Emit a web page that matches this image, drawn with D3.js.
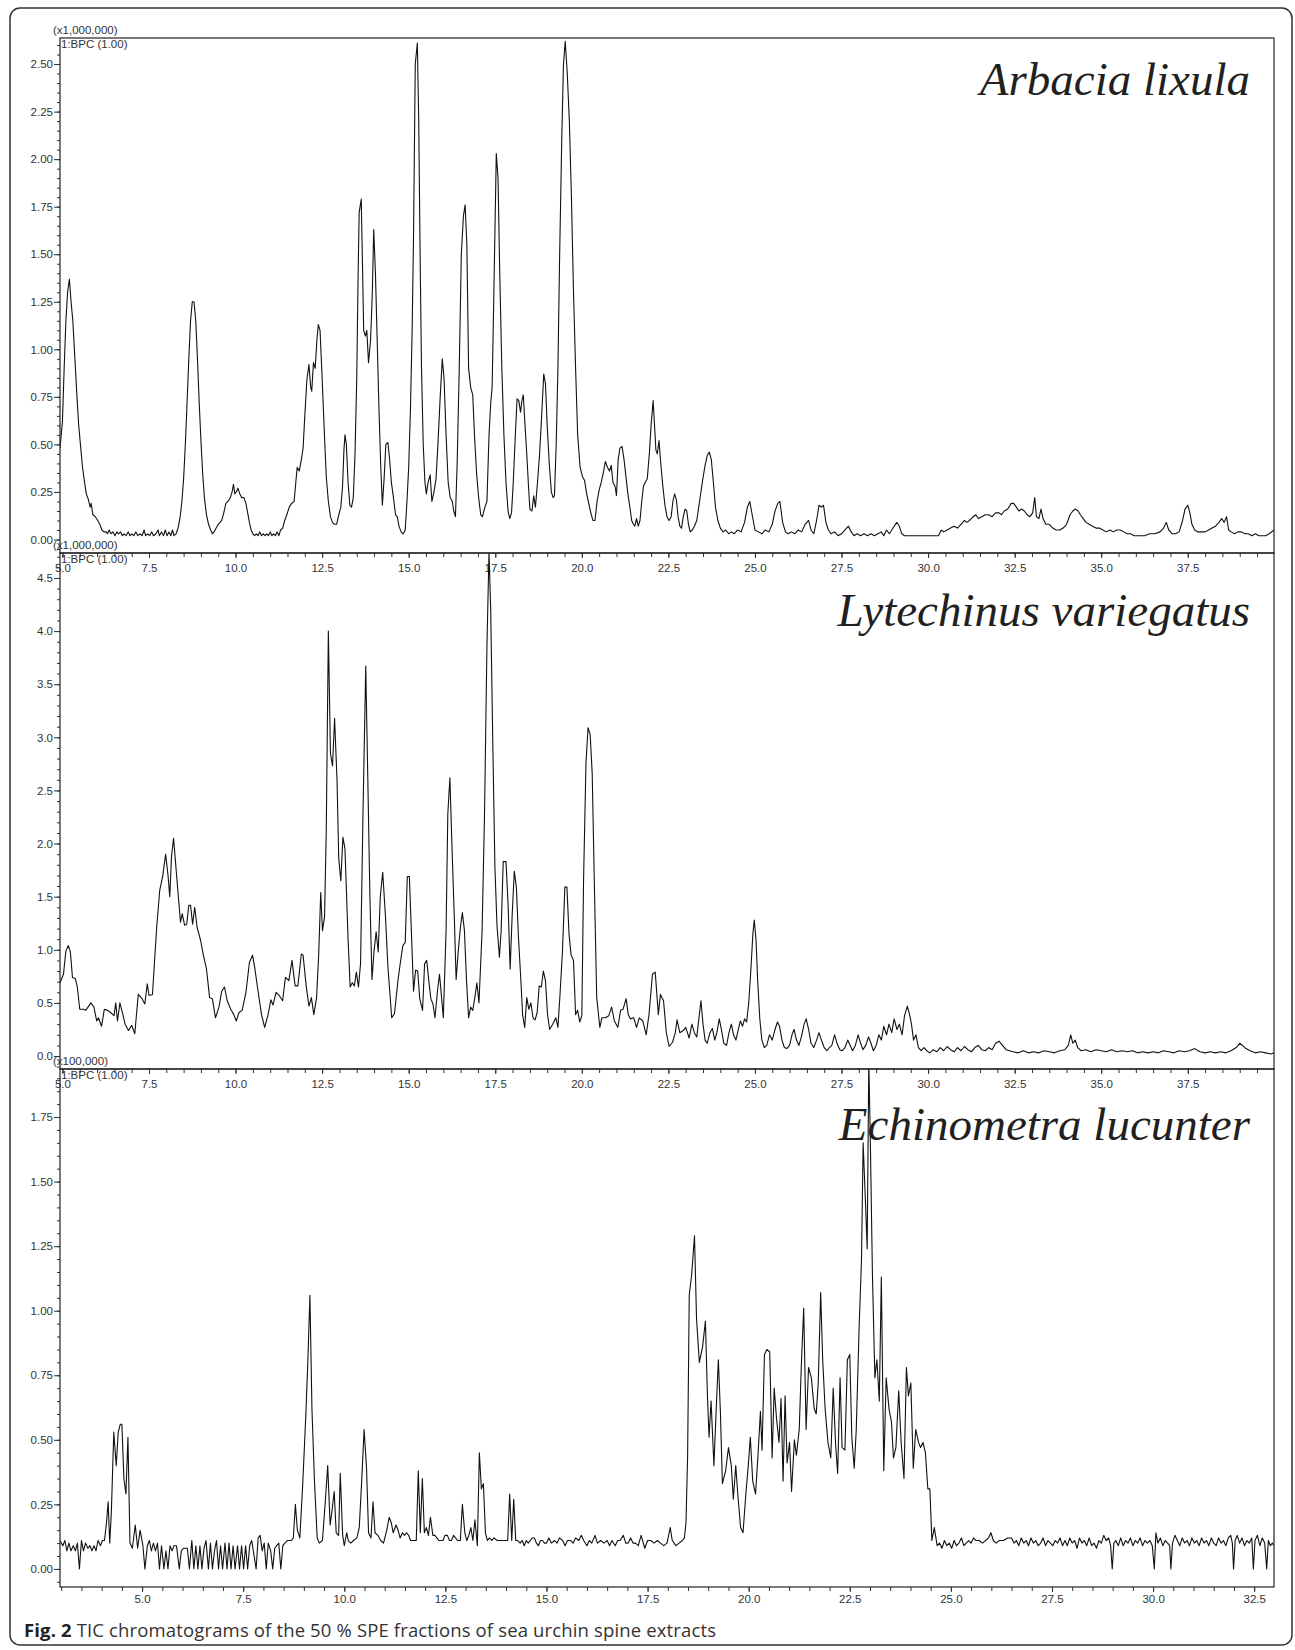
<!DOCTYPE html>
<html>
<head>
<meta charset="utf-8">
<script src="https://cdn.jsdelivr.net/npm/d3@7"></script>
<style>
  body { margin: 0; background: #fff; }
  .tick text { font-family: "Liberation Sans", Arial, sans-serif; font-size: 11.5px; fill: #333; }
  .tick line { stroke: #333; }
</style>
</head>
<body>
<div id="chart"></div>
<script>
// retention time (min) / intensity pairs
var arbaciaData = [
  [4.93,0.48],[5.0,0.62],[5.05,0.9],[5.1,1.15],[5.15,1.3],[5.2,1.37],[5.25,1.25],[5.3,1.15],[5.36,0.95],[5.42,0.75],
  [5.47,0.6],[5.52,0.5],[5.58,0.38],[5.64,0.3],[5.69,0.24],[5.75,0.21],[5.8,0.17],[5.83,0.19],[5.88,0.13],[5.95,0.12],
  [6.02,0.1],[6.08,0.08],[6.14,0.05],[6.2,0.04],[6.26,0.04],[6.3,0.03],[6.35,0.05],[6.4,0.03],[6.46,0.04],[6.52,0.02],
  [6.57,0.04],[6.62,0.03],[6.68,0.04],[6.73,0.02],[6.78,0.03],[6.84,0.02],[6.9,0.04],[6.95,0.02],[7.0,0.03],[7.06,0.02],
  [7.12,0.04],[7.18,0.02],[7.24,0.03],[7.3,0.02],[7.36,0.05],[7.4,0.02],[7.46,0.03],[7.52,0.02],[7.58,0.04],[7.63,0.02],
  [7.7,0.03],[7.76,0.05],[7.8,0.02],[7.86,0.04],[7.92,0.02],[7.97,0.05],[8.02,0.02],[8.08,0.04],[8.13,0.02],[8.18,0.05],
  [8.22,0.02],[8.28,0.03],[8.34,0.06],[8.4,0.12],[8.45,0.2],[8.5,0.32],[8.55,0.5],[8.6,0.72],[8.65,0.95],[8.7,1.15],
  [8.75,1.25],[8.8,1.25],[8.85,1.15],[8.9,0.95],[8.95,0.72],[9.0,0.52],[9.05,0.35],[9.1,0.22],[9.16,0.13],[9.22,0.08],
  [9.28,0.05],[9.33,0.03],[9.38,0.04],[9.44,0.06],[9.5,0.08],[9.55,0.09],[9.6,0.1],[9.66,0.14],[9.72,0.19],[9.78,0.2],
  [9.85,0.22],[9.9,0.25],[9.94,0.29],[9.98,0.24],[10.02,0.25],[10.07,0.27],[10.12,0.24],[10.18,0.22],[10.24,0.22],[10.3,0.19],
  [10.35,0.14],[10.4,0.09],[10.45,0.05],[10.5,0.03],[10.55,0.02],[10.6,0.03],[10.65,0.02],[10.7,0.04],[10.75,0.02],[10.8,0.03],
  [10.85,0.02],[10.9,0.03],[10.95,0.02],[11.0,0.04],[11.05,0.02],[11.1,0.03],[11.15,0.02],[11.2,0.04],[11.25,0.02],[11.3,0.05],
  [11.36,0.06],[11.42,0.1],[11.48,0.13],[11.55,0.17],[11.62,0.19],[11.69,0.2],[11.74,0.3],[11.78,0.38],[11.84,0.36],[11.9,0.42],
  [11.95,0.48],[12.0,0.65],[12.06,0.84],[12.12,0.92],[12.17,0.8],[12.2,0.78],[12.25,0.93],[12.3,0.9],[12.35,1.05],[12.39,1.13],
  [12.44,1.1],[12.5,0.85],[12.56,0.58],[12.62,0.33],[12.68,0.2],[12.74,0.12],[12.8,0.09],[12.86,0.08],[12.92,0.08],[12.98,0.13],
  [13.04,0.17],[13.09,0.28],[13.13,0.47],[13.16,0.55],[13.2,0.5],[13.25,0.3],[13.3,0.18],[13.35,0.17],[13.4,0.22],[13.45,0.45],
  [13.5,0.85],[13.54,1.4],[13.57,1.72],[13.63,1.79],[13.67,1.4],[13.7,1.1],[13.75,1.07],[13.79,1.1],[13.84,0.93],[13.9,1.05],
  [13.95,1.3],[13.99,1.63],[14.04,1.4],[14.09,1.05],[14.14,0.7],[14.19,0.4],[14.24,0.18],[14.29,0.32],[14.34,0.5],[14.4,0.51],
  [14.45,0.42],[14.5,0.3],[14.56,0.22],[14.62,0.13],[14.67,0.12],[14.72,0.07],[14.78,0.04],[14.84,0.03],[14.9,0.05],[14.95,0.2],
  [15.0,0.38],[15.05,0.68],[15.1,1.1],[15.14,1.6],[15.19,2.5],[15.25,2.61],[15.29,2.2],[15.33,1.5],[15.37,0.9],[15.42,0.5],
  [15.47,0.3],[15.51,0.24],[15.56,0.3],[15.62,0.34],[15.67,0.2],[15.73,0.25],[15.79,0.32],[15.85,0.52],[15.91,0.75],[15.97,0.95],
  [16.02,0.85],[16.08,0.55],[16.14,0.3],[16.2,0.22],[16.26,0.2],[16.3,0.15],[16.35,0.12],[16.4,0.4],[16.46,0.9],[16.52,1.5],
  [16.58,1.7],[16.63,1.76],[16.68,1.55],[16.73,0.9],[16.79,0.8],[16.85,0.76],[16.9,0.55],[16.96,0.35],[17.02,0.22],[17.08,0.13],
  [17.13,0.12],[17.2,0.17],[17.26,0.2],[17.32,0.55],[17.37,0.72],[17.41,0.8],[17.47,1.4],[17.53,2.03],[17.58,1.9],[17.63,1.4],
  [17.69,0.9],[17.75,0.55],[17.81,0.3],[17.87,0.15],[17.92,0.11],[17.97,0.14],[18.02,0.3],[18.08,0.55],[18.13,0.74],[18.18,0.73],
  [18.23,0.67],[18.27,0.73],[18.31,0.76],[18.36,0.6],[18.41,0.45],[18.46,0.28],[18.5,0.16],[18.56,0.15],[18.61,0.23],[18.66,0.17],
  [18.72,0.3],[18.78,0.45],[18.84,0.65],[18.9,0.87],[18.95,0.82],[19.0,0.6],[19.06,0.4],[19.12,0.25],[19.17,0.22],[19.21,0.23],
  [19.26,0.5],[19.31,0.9],[19.36,1.5],[19.42,2.1],[19.47,2.5],[19.52,2.62],[19.58,2.45],[19.64,2.2],[19.7,1.8],[19.76,1.3],
  [19.82,0.9],[19.88,0.55],[19.95,0.38],[20.02,0.33],[20.08,0.31],[20.14,0.24],[20.2,0.19],[20.26,0.14],[20.32,0.1],[20.38,0.1],
  [20.44,0.2],[20.5,0.26],[20.56,0.3],[20.62,0.35],[20.68,0.41],[20.74,0.38],[20.8,0.36],[20.85,0.39],[20.9,0.3],[20.96,0.28],
  [21.0,0.23],[21.05,0.42],[21.1,0.48],[21.16,0.49],[21.22,0.42],[21.28,0.32],[21.33,0.24],[21.38,0.18],[21.44,0.1],[21.49,0.08],
  [21.53,0.07],[21.58,0.11],[21.63,0.07],[21.68,0.1],[21.73,0.2],[21.78,0.28],[21.83,0.3],[21.89,0.32],[21.95,0.45],[22.0,0.6],
  [22.06,0.73],[22.1,0.6],[22.14,0.47],[22.18,0.45],[22.23,0.52],[22.28,0.4],[22.34,0.28],[22.4,0.18],[22.46,0.12],[22.52,0.1],
  [22.58,0.12],[22.63,0.2],[22.68,0.24],[22.73,0.21],[22.78,0.12],[22.83,0.07],[22.88,0.06],[22.93,0.12],[22.98,0.16],[23.03,0.15],
  [23.08,0.08],[23.13,0.04],[23.19,0.05],[23.25,0.07],[23.32,0.1],[23.4,0.2],[23.48,0.3],[23.55,0.38],[23.62,0.44],[23.68,0.46],
  [23.74,0.42],[23.8,0.3],[23.86,0.17],[23.93,0.1],[24.0,0.06],[24.08,0.04],[24.16,0.05],[24.24,0.03],[24.32,0.04],[24.4,0.03],
  [24.5,0.05],[24.6,0.04],[24.7,0.09],[24.78,0.17],[24.85,0.2],[24.92,0.13],[25.0,0.05],[25.1,0.04],[25.2,0.03],[25.3,0.05],
  [25.4,0.04],[25.5,0.08],[25.58,0.15],[25.66,0.19],[25.72,0.2],[25.8,0.09],[25.88,0.04],[25.96,0.03],[26.05,0.04],[26.15,0.03],
  [26.25,0.05],[26.35,0.04],[26.45,0.08],[26.55,0.1],[26.62,0.05],[26.7,0.03],[26.78,0.1],[26.85,0.18],[26.92,0.17],[26.98,0.18],
  [27.05,0.09],[27.12,0.05],[27.2,0.03],[27.3,0.04],[27.4,0.02],[27.5,0.03],[27.6,0.05],[27.7,0.07],[27.78,0.04],[27.86,0.02],
  [27.95,0.03],[28.05,0.02],[28.15,0.03],[28.25,0.02],[28.35,0.03],[28.45,0.02],[28.55,0.03],[28.65,0.04],[28.72,0.02],[28.8,0.05],
  [28.88,0.03],[28.95,0.05],[29.02,0.07],[29.1,0.09],[29.17,0.07],[29.24,0.03],[29.32,0.02],[29.5,0.02],[29.7,0.02],[29.9,0.02],
  [30.1,0.02],[30.3,0.02],[30.38,0.05],[30.45,0.04],[30.55,0.05],[30.65,0.06],[30.75,0.07],[30.85,0.06],[30.95,0.08],[31.05,0.1],
  [31.12,0.09],[31.2,0.1],[31.3,0.12],[31.38,0.13],[31.45,0.11],[31.55,0.12],[31.65,0.13],[31.75,0.13],[31.85,0.12],[31.95,0.14],
  [32.05,0.14],[32.12,0.13],[32.2,0.15],[32.3,0.16],[32.4,0.19],[32.47,0.19],[32.55,0.17],[32.62,0.15],[32.7,0.16],[32.78,0.15],
  [32.86,0.13],[32.94,0.12],[33.02,0.14],[33.08,0.22],[33.13,0.12],[33.2,0.11],[33.26,0.16],[33.32,0.11],[33.4,0.08],[33.5,0.08],
  [33.6,0.06],[33.7,0.05],[33.8,0.05],[33.9,0.06],[34.0,0.08],[34.1,0.13],[34.18,0.15],[34.26,0.16],[34.33,0.15],[34.4,0.13],
  [34.48,0.11],[34.56,0.09],[34.65,0.08],[34.75,0.07],[34.85,0.06],[34.95,0.06],[35.05,0.05],[35.15,0.04],[35.25,0.05],[35.35,0.04],
  [35.45,0.05],[35.55,0.05],[35.65,0.04],[35.75,0.03],[35.85,0.03],[35.95,0.02],[36.1,0.02],[36.25,0.02],[36.4,0.03],[36.55,0.03],
  [36.7,0.04],[36.8,0.06],[36.88,0.09],[36.95,0.05],[37.05,0.03],[37.15,0.03],[37.25,0.04],[37.35,0.1],[37.42,0.16],[37.5,0.18],
  [37.56,0.14],[37.62,0.08],[37.7,0.05],[37.78,0.04],[37.88,0.04],[38.0,0.04],[38.1,0.05],[38.2,0.06],[38.3,0.07],[38.4,0.09],
  [38.48,0.11],[38.55,0.09],[38.62,0.12],[38.68,0.05],[38.75,0.04],[38.85,0.03],[38.95,0.04],[39.05,0.04],[39.15,0.03],[39.25,0.03],
  [39.35,0.02],[39.45,0.03],[39.55,0.02],[39.65,0.02],[39.75,0.02],[39.85,0.03],[39.99,0.05]
];

var lytechinusData = [
  [4.93,0.69],[5.03,0.77],[5.1,0.99],[5.17,1.04],[5.23,0.98],[5.29,0.74],[5.37,0.73],[5.43,0.65],[5.5,0.44],[5.61,0.44],
  [5.67,0.43],[5.76,0.47],[5.82,0.5],[5.91,0.46],[5.99,0.33],[6.04,0.36],[6.13,0.28],[6.21,0.44],[6.31,0.43],[6.39,0.41],
  [6.49,0.38],[6.54,0.5],[6.59,0.33],[6.66,0.5],[6.73,0.41],[6.81,0.3],[6.91,0.24],[7.0,0.29],[7.09,0.21],[7.19,0.58],
  [7.3,0.54],[7.38,0.49],[7.45,0.68],[7.5,0.57],[7.6,0.58],[7.72,1.2],[7.81,1.56],[7.9,1.7],[7.98,1.9],[8.05,1.7],
  [8.1,1.5],[8.15,1.88],[8.21,2.05],[8.27,1.81],[8.34,1.53],[8.41,1.26],[8.46,1.34],[8.53,1.23],[8.59,1.24],[8.65,1.42],
  [8.7,1.42],[8.76,1.24],[8.82,1.4],[8.89,1.21],[8.99,1.09],[9.07,0.95],[9.16,0.82],[9.25,0.55],[9.33,0.54],[9.42,0.36],
  [9.52,0.46],[9.6,0.61],[9.68,0.65],[9.76,0.52],[9.86,0.44],[9.95,0.39],[10.02,0.33],[10.1,0.41],[10.19,0.43],[10.3,0.6],
  [10.4,0.88],[10.49,0.95],[10.55,0.84],[10.65,0.61],[10.75,0.39],[10.84,0.27],[10.94,0.39],[11.02,0.53],[11.08,0.48],[11.17,0.6],
  [11.26,0.57],[11.36,0.52],[11.44,0.74],[11.54,0.71],[11.63,0.9],[11.72,0.66],[11.8,0.66],[11.9,0.96],[11.95,0.95],[12.04,0.66],
  [12.12,0.47],[12.19,0.55],[12.26,0.39],[12.34,0.55],[12.4,0.95],[12.46,1.54],[12.51,1.18],[12.57,1.31],[12.62,2.13],[12.68,4.0],
  [12.74,2.85],[12.8,2.73],[12.86,3.18],[12.93,2.6],[12.98,1.86],[13.04,1.65],[13.1,2.06],[13.16,1.95],[13.25,1.1],[13.31,0.65],
  [13.37,0.69],[13.43,0.66],[13.49,0.79],[13.55,0.65],[13.61,0.87],[13.68,2.28],[13.76,3.67],[13.82,2.6],[13.88,1.5],[13.94,0.72],
  [14.0,0.99],[14.06,1.17],[14.12,0.98],[14.18,1.5],[14.25,1.73],[14.33,1.31],[14.4,0.84],[14.51,0.36],[14.59,0.4],[14.69,0.71],
  [14.76,0.88],[14.83,1.04],[14.9,1.07],[14.96,1.69],[15.02,1.69],[15.08,1.15],[15.14,0.61],[15.2,0.81],[15.26,0.8],[15.32,0.54],
  [15.4,0.43],[15.46,0.87],[15.52,0.9],[15.58,0.71],[15.64,0.54],[15.7,0.49],[15.76,0.36],[15.83,0.61],[15.89,0.77],[15.95,0.55],
  [16.0,0.36],[16.08,1.18],[16.13,2.28],[16.19,2.62],[16.25,1.97],[16.32,1.28],[16.37,0.72],[16.43,0.98],[16.49,1.2],[16.55,1.35],
  [16.61,1.18],[16.67,0.71],[16.73,0.36],[16.79,0.46],[16.85,0.43],[16.91,0.55],[16.97,0.69],[17.03,0.5],[17.12,1.18],[17.19,2.28],
  [17.26,3.86],[17.32,4.75],[17.37,4.18],[17.43,2.92],[17.49,1.78],[17.55,1.23],[17.62,0.93],[17.67,1.18],[17.73,1.83],[17.81,1.83],
  [17.87,1.43],[17.93,0.82],[17.99,1.34],[18.05,1.74],[18.11,1.59],[18.17,1.12],[18.25,0.65],[18.29,0.39],[18.35,0.27],[18.41,0.55],
  [18.47,0.44],[18.53,0.5],[18.59,0.36],[18.65,0.34],[18.71,0.41],[18.77,0.66],[18.83,0.65],[18.89,0.8],[18.95,0.71],[19.01,0.39],
  [19.07,0.25],[19.16,0.3],[19.25,0.36],[19.31,0.27],[19.37,0.58],[19.44,0.98],[19.51,1.59],[19.57,1.59],[19.63,1.15],[19.69,0.95],
  [19.76,0.9],[19.82,0.39],[19.88,0.43],[19.94,0.32],[20.0,0.38],[20.05,1.65],[20.12,2.76],[20.18,3.09],[20.24,3.03],[20.3,2.66],
  [20.36,1.65],[20.43,0.55],[20.52,0.27],[20.58,0.36],[20.68,0.36],[20.78,0.38],[20.86,0.46],[20.94,0.33],[21.04,0.27],[21.12,0.43],
  [21.19,0.44],[21.28,0.54],[21.34,0.39],[21.4,0.35],[21.5,0.36],[21.58,0.27],[21.66,0.36],[21.76,0.33],[21.86,0.2],[21.94,0.39],
  [22.04,0.77],[22.12,0.79],[22.21,0.39],[22.27,0.58],[22.36,0.52],[22.44,0.22],[22.52,0.09],[22.62,0.13],[22.7,0.22],[22.75,0.34],
  [22.83,0.22],[22.93,0.24],[23.0,0.27],[23.1,0.17],[23.18,0.3],[23.25,0.22],[23.32,0.18],[23.38,0.35],[23.44,0.52],[23.5,0.3],
  [23.56,0.15],[23.62,0.12],[23.7,0.22],[23.77,0.26],[23.84,0.15],[23.9,0.22],[23.97,0.35],[24.03,0.25],[24.1,0.12],[24.18,0.1],
  [24.25,0.22],[24.32,0.3],[24.38,0.2],[24.45,0.15],[24.52,0.25],[24.58,0.33],[24.64,0.28],[24.7,0.35],[24.76,0.32],[24.82,0.5],
  [24.88,0.8],[24.94,1.15],[24.98,1.28],[25.03,1.1],[25.08,0.7],[25.14,0.35],[25.2,0.15],[25.27,0.08],[25.34,0.1],[25.42,0.2],
  [25.5,0.15],[25.58,0.25],[25.65,0.32],[25.71,0.28],[25.78,0.15],[25.85,0.08],[25.92,0.07],[26.0,0.1],[26.07,0.2],[26.13,0.25],
  [26.2,0.15],[26.27,0.1],[26.34,0.18],[26.42,0.3],[26.48,0.35],[26.55,0.25],[26.62,0.12],[26.7,0.08],[26.78,0.15],[26.85,0.22],
  [26.92,0.15],[27.0,0.08],[27.08,0.05],[27.15,0.08],[27.22,0.1],[27.3,0.2],[27.37,0.12],[27.45,0.06],[27.52,0.05],[27.6,0.08],
  [27.68,0.15],[27.75,0.1],[27.82,0.05],[27.9,0.1],[27.98,0.2],[28.05,0.12],[28.12,0.06],[28.2,0.1],[28.28,0.18],[28.35,0.12],
  [28.42,0.05],[28.5,0.1],[28.58,0.2],[28.65,0.15],[28.72,0.28],[28.8,0.2],[28.87,0.3],[28.95,0.22],[29.02,0.35],[29.1,0.25],
  [29.17,0.3],[29.25,0.2],[29.32,0.38],[29.4,0.47],[29.46,0.4],[29.52,0.3],[29.58,0.15],[29.65,0.2],[29.72,0.08],[29.8,0.05],
  [29.88,0.08],[29.96,0.05],[30.05,0.03],[30.15,0.06],[30.25,0.04],[30.35,0.08],[30.45,0.05],[30.55,0.09],[30.65,0.06],[30.75,0.04],
  [30.85,0.08],[30.95,0.05],[31.05,0.09],[31.15,0.06],[31.25,0.04],[31.35,0.08],[31.45,0.1],[31.55,0.06],[31.65,0.05],[31.75,0.08],
  [31.85,0.06],[31.95,0.12],[32.05,0.14],[32.15,0.1],[32.25,0.06],[32.35,0.05],[32.45,0.04],[32.6,0.03],[32.75,0.05],[32.9,0.03],
  [33.05,0.04],[33.2,0.03],[33.35,0.05],[33.5,0.04],[33.65,0.03],[33.8,0.05],[33.95,0.06],[34.05,0.1],[34.12,0.2],[34.18,0.12],
  [34.25,0.15],[34.32,0.08],[34.42,0.05],[34.55,0.06],[34.7,0.04],[34.85,0.06],[35.0,0.05],[35.15,0.04],[35.3,0.06],[35.45,0.04],
  [35.6,0.05],[35.75,0.04],[35.9,0.05],[36.05,0.03],[36.2,0.04],[36.35,0.03],[36.5,0.04],[36.65,0.03],[36.8,0.05],[36.95,0.04],
  [37.1,0.03],[37.25,0.05],[37.4,0.04],[37.55,0.05],[37.7,0.07],[37.85,0.04],[38.0,0.03],[38.15,0.04],[38.3,0.03],[38.45,0.04],
  [38.6,0.03],[38.75,0.05],[38.9,0.08],[39.0,0.12],[39.08,0.1],[39.18,0.07],[39.3,0.05],[39.45,0.03],[39.6,0.04],[39.75,0.03],
  [39.9,0.02],[39.99,0.03]
];

var echinometraData = [
  [2.97,0.11],[3.04,0.09],[3.09,0.11],[3.14,0.07],[3.19,0.1],[3.24,0.07],[3.3,0.09],[3.35,0.07],[3.4,0.1],[3.45,0.0],
  [3.5,0.11],[3.55,0.07],[3.6,0.1],[3.66,0.08],[3.71,0.09],[3.76,0.07],[3.81,0.09],[3.86,0.07],[3.91,0.11],[3.97,0.09],
  [4.02,0.11],[4.07,0.11],[4.12,0.18],[4.16,0.26],[4.2,0.1],[4.24,0.22],[4.3,0.53],[4.36,0.4],[4.41,0.53],[4.46,0.56],
  [4.5,0.56],[4.55,0.35],[4.6,0.29],[4.65,0.51],[4.7,0.1],[4.76,0.08],[4.83,0.17],[4.89,0.08],[4.95,0.15],[5.02,0.09],
  [5.07,0.0],[5.13,0.09],[5.18,0.11],[5.23,0.07],[5.28,0.1],[5.33,0.07],[5.38,0.1],[5.43,0.0],[5.48,0.09],[5.54,0.0],
  [5.59,0.07],[5.64,0.0],[5.69,0.09],[5.74,0.07],[5.79,0.09],[5.85,0.09],[5.92,0.0],[5.97,0.07],[6.02,0.08],[6.07,0.08],
  [6.12,0.08],[6.17,0.0],[6.23,0.11],[6.28,0.0],[6.33,0.09],[6.38,0.0],[6.43,0.09],[6.48,0.0],[6.53,0.08],[6.58,0.11],
  [6.64,0.0],[6.69,0.1],[6.74,0.0],[6.79,0.07],[6.84,0.11],[6.89,0.0],[6.94,0.09],[6.99,0.0],[7.05,0.1],[7.1,0.0],
  [7.15,0.1],[7.2,0.0],[7.25,0.09],[7.3,0.0],[7.36,0.09],[7.41,0.0],[7.46,0.09],[7.51,0.0],[7.56,0.09],[7.61,0.0],
  [7.66,0.09],[7.71,0.11],[7.77,0.05],[7.82,0.0],[7.87,0.12],[7.92,0.13],[7.97,0.07],[8.02,0.1],[8.07,0.0],[8.12,0.1],
  [8.18,0.07],[8.23,0.0],[8.28,0.08],[8.33,0.09],[8.38,0.1],[8.43,0.0],[8.48,0.09],[8.53,0.1],[8.59,0.11],[8.64,0.11],
  [8.69,0.11],[8.74,0.12],[8.79,0.25],[8.84,0.15],[8.9,0.12],[8.97,0.32],[9.05,0.6],[9.1,0.81],[9.15,1.06],[9.2,0.62],
  [9.26,0.35],[9.33,0.12],[9.38,0.1],[9.46,0.11],[9.53,0.26],[9.59,0.4],[9.65,0.17],[9.7,0.23],[9.75,0.3],[9.8,0.14],
  [9.86,0.13],[9.9,0.37],[9.96,0.13],[10.0,0.09],[10.06,0.14],[10.1,0.11],[10.16,0.1],[10.23,0.11],[10.31,0.12],[10.37,0.16],
  [10.43,0.34],[10.49,0.54],[10.55,0.39],[10.6,0.14],[10.66,0.12],[10.71,0.26],[10.76,0.14],[10.83,0.13],[10.9,0.11],[10.97,0.1],
  [11.05,0.15],[11.11,0.2],[11.16,0.18],[11.21,0.14],[11.28,0.17],[11.33,0.15],[11.38,0.12],[11.44,0.14],[11.49,0.13],[11.54,0.14],
  [11.59,0.13],[11.64,0.11],[11.72,0.11],[11.78,0.11],[11.83,0.38],[11.88,0.14],[11.93,0.35],[11.98,0.14],[12.03,0.16],[12.08,0.13],
  [12.13,0.2],[12.19,0.13],[12.24,0.13],[12.29,0.12],[12.34,0.11],[12.39,0.11],[12.44,0.11],[12.49,0.13],[12.55,0.13],[12.6,0.11],
  [12.65,0.11],[12.7,0.13],[12.75,0.12],[12.8,0.11],[12.87,0.11],[12.92,0.25],[12.98,0.14],[13.03,0.11],[13.08,0.13],[13.13,0.16],
  [13.18,0.11],[13.23,0.19],[13.29,0.09],[13.34,0.45],[13.39,0.31],[13.44,0.33],[13.49,0.14],[13.54,0.11],[13.59,0.12],[13.65,0.11],
  [13.7,0.12],[13.78,0.11],[13.83,0.11],[13.88,0.11],[13.93,0.11],[13.98,0.11],[14.04,0.11],[14.09,0.29],[14.14,0.11],[14.19,0.27],
  [14.24,0.11],[14.29,0.11],[14.35,0.1],[14.4,0.11],[14.45,0.09],[14.5,0.11],[14.55,0.1],[14.6,0.11],[14.65,0.12],[14.7,0.12],
  [14.75,0.1],[14.8,0.09],[14.85,0.11],[14.9,0.11],[14.95,0.1],[15.0,0.1],[15.06,0.12],[15.12,0.1],[15.2,0.11],[15.26,0.1],
  [15.32,0.12],[15.4,0.11],[15.46,0.09],[15.52,0.11],[15.6,0.11],[15.66,0.1],[15.72,0.12],[15.8,0.11],[15.86,0.13],[15.92,0.11],
  [16.0,0.09],[16.06,0.11],[16.12,0.1],[16.2,0.13],[16.26,0.1],[16.34,0.11],[16.42,0.1],[16.5,0.11],[16.56,0.09],[16.62,0.11],
  [16.7,0.09],[16.76,0.11],[16.82,0.11],[16.9,0.13],[16.96,0.1],[17.02,0.1],[17.08,0.12],[17.14,0.1],[17.2,0.1],[17.27,0.09],
  [17.34,0.13],[17.43,0.08],[17.5,0.11],[17.58,0.11],[17.66,0.1],[17.74,0.11],[17.82,0.1],[17.9,0.09],[17.98,0.1],[18.06,0.16],
  [18.11,0.11],[18.2,0.09],[18.28,0.1],[18.36,0.11],[18.41,0.12],[18.45,0.18],[18.49,0.44],[18.53,1.06],[18.59,1.14],[18.66,1.29],
  [18.71,0.97],[18.78,0.8],[18.86,0.86],[18.93,0.96],[18.98,0.67],[19.02,0.51],[19.07,0.65],[19.14,0.4],[19.2,0.63],[19.25,0.81],
  [19.3,0.61],[19.35,0.33],[19.43,0.38],[19.5,0.47],[19.57,0.4],[19.62,0.27],[19.68,0.4],[19.73,0.29],[19.8,0.16],[19.86,0.14],
  [19.93,0.29],[19.99,0.4],[20.04,0.51],[20.1,0.34],[20.17,0.29],[20.23,0.44],[20.29,0.61],[20.33,0.46],[20.39,0.83],[20.45,0.85],
  [20.52,0.84],[20.58,0.43],[20.63,0.7],[20.69,0.58],[20.75,0.49],[20.8,0.66],[20.85,0.34],[20.9,0.67],[20.95,0.41],[21.01,0.49],
  [21.06,0.3],[21.13,0.5],[21.18,0.44],[21.25,0.54],[21.3,0.78],[21.36,1.01],[21.42,0.54],[21.48,0.78],[21.55,0.74],[21.62,0.62],
  [21.67,0.6],[21.72,0.72],[21.78,1.07],[21.83,0.81],[21.89,0.62],[21.96,0.49],[22.03,0.43],[22.09,0.7],[22.15,0.48],[22.2,0.37],
  [22.26,0.74],[22.31,0.47],[22.38,0.46],[22.44,0.81],[22.5,0.83],[22.55,0.51],[22.61,0.39],[22.66,0.54],[22.73,0.93],[22.79,1.2],
  [22.83,1.65],[22.89,1.41],[22.93,1.24],[22.97,1.97],[23.01,1.64],[23.06,1.14],[23.12,0.74],[23.17,0.81],[23.23,0.65],[23.28,1.13],
  [23.34,0.38],[23.4,0.74],[23.47,0.62],[23.53,0.57],[23.58,0.43],[23.64,0.47],[23.71,0.69],[23.77,0.49],[23.84,0.35],[23.9,0.78],
  [23.95,0.67],[24.01,0.72],[24.07,0.39],[24.13,0.54],[24.2,0.49],[24.25,0.47],[24.31,0.49],[24.37,0.45],[24.43,0.31],[24.48,0.31],
  [24.53,0.11],[24.59,0.16],[24.66,0.09],[24.72,0.1],[24.78,0.08],[24.84,0.11],[24.9,0.09],[24.96,0.1],[25.02,0.08],[25.08,0.11],
  [25.14,0.09],[25.2,0.1],[25.26,0.12],[25.32,0.09],[25.38,0.1],[25.44,0.11],[25.5,0.1],[25.56,0.12],[25.62,0.11],[25.7,0.11],
  [25.78,0.1],[25.86,0.11],[25.93,0.12],[25.99,0.14],[26.05,0.11],[26.12,0.1],[26.2,0.11],[26.3,0.11],[26.4,0.12],[26.5,0.12],
  [26.56,0.1],[26.62,0.11],[26.68,0.09],[26.74,0.12],[26.8,0.1],[26.86,0.11],[26.92,0.09],[26.98,0.12],[27.04,0.1],[27.1,0.11],
  [27.16,0.09],[27.22,0.1],[27.28,0.12],[27.34,0.09],[27.4,0.11],[27.46,0.1],[27.52,0.09],[27.58,0.11],[27.64,0.1],[27.7,0.12],
  [27.76,0.09],[27.82,0.11],[27.88,0.09],[27.94,0.12],[28.0,0.1],[28.06,0.11],[28.12,0.08],[28.18,0.12],[28.24,0.1],[28.3,0.11],
  [28.36,0.09],[28.42,0.12],[28.48,0.09],[28.54,0.1],[28.6,0.08],[28.66,0.11],[28.72,0.1],[28.78,0.13],[28.84,0.11],[28.9,0.12],
  [28.95,0.09],[28.99,0.0],[29.03,0.1],[29.08,0.11],[29.14,0.09],[29.2,0.12],[29.26,0.09],[29.32,0.11],[29.38,0.1],[29.44,0.12],
  [29.5,0.09],[29.56,0.11],[29.62,0.1],[29.68,0.12],[29.74,0.09],[29.8,0.11],[29.86,0.1],[29.92,0.11],[29.98,0.09],[30.03,0.0],
  [30.07,0.14],[30.12,0.1],[30.18,0.12],[30.24,0.09],[30.3,0.11],[30.36,0.1],[30.41,0.09],[30.44,0.0],[30.48,0.1],[30.54,0.13],
  [30.6,0.11],[30.66,0.09],[30.72,0.12],[30.78,0.1],[30.84,0.11],[30.9,0.09],[30.96,0.12],[31.02,0.1],[31.08,0.11],[31.14,0.09],
  [31.2,0.12],[31.26,0.1],[31.32,0.11],[31.38,0.09],[31.44,0.12],[31.5,0.1],[31.56,0.09],[31.62,0.12],[31.68,0.1],[31.74,0.11],
  [31.8,0.09],[31.86,0.12],[31.92,0.13],[31.96,0.1],[31.99,0.0],[32.03,0.11],[32.08,0.13],[32.14,0.1],[32.2,0.12],[32.26,0.09],
  [32.32,0.11],[32.38,0.1],[32.44,0.12],[32.48,0.0],[32.52,0.11],[32.58,0.13],[32.64,0.09],[32.7,0.12],[32.76,0.1],[32.81,0.0],
  [32.85,0.11],[32.9,0.09],[32.95,0.1],[32.99,0.09]
];

var speciesNames = ['Arbacia lixula', 'Lytechinus variegatus', 'Echinometra lucunter'];
var intensityUnits = ['(x1,000,000)', '(x1,000,000)', '(x100,000)'];
var traceLabel = '1:BPC (1.00)';

var rtTicksLong = [5.0, 7.5, 10.0, 12.5, 15.0, 17.5, 20.0, 22.5, 25.0, 27.5, 30.0, 32.5, 35.0, 37.5];
var rtTicksShort = [5.0, 7.5, 10.0, 12.5, 15.0, 17.5, 20.0, 22.5, 25.0, 27.5, 30.0, 32.5];
var arbaciaYTicks = [0.00, 0.25, 0.50, 0.75, 1.00, 1.25, 1.50, 1.75, 2.00, 2.25, 2.50];
var lytechinusYTicks = [0.0, 0.5, 1.0, 1.5, 2.0, 2.5, 3.0, 3.5, 4.0, 4.5];
var echinometraYTicks = [0.00, 0.25, 0.50, 0.75, 1.00, 1.25, 1.50, 1.75];

var captionBold = 'Fig. 2';
var captionText = ' TIC chromatograms of the 50 % SPE fractions of sea urchin spine extracts';

var width = 1295;
var height = 1650;
var plotLeft = 60;
var plotRight = 1274;

var panels = [
  { data: arbaciaData, top: 38, bottom: 553, xDomain: [4.93, 39.99], yDomain: [-0.071, 2.637],
    xTicks: rtTicksLong, yTicks: arbaciaYTicks, yMinorStep: 0.05, yFormat: '.2f', labelPad: 6, nameY: 95 },
  { data: lytechinusData, top: 553, bottom: 1069, xDomain: [4.93, 39.99], yDomain: [-0.122, 4.735],
    xTicks: rtTicksLong, yTicks: lytechinusYTicks, yMinorStep: 0.1, yFormat: '.1f', labelPad: 6, nameY: 626 },
  { data: echinometraData, top: 1069, bottom: 1587, xDomain: [2.97, 32.99], yDomain: [-0.07, 1.936],
    xTicks: rtTicksShort, yTicks: echinometraYTicks, yMinorStep: 0.05, yFormat: '.2f', labelPad: 3, nameY: 1140 }
];

var svg = d3.select('#chart').append('svg')
  .attr('width', width)
  .attr('height', height);

svg.append('rect')
  .attr('width', width).attr('height', height)
  .attr('fill', '#fff');

// outer frame of the figure
svg.append('rect')
  .attr('x', 10).attr('y', 8)
  .attr('width', 1282).attr('height', 1637)
  .attr('rx', 10)
  .attr('fill', 'none')
  .attr('stroke', '#333')
  .attr('stroke-width', 1.5);

var defs = svg.append('defs');

panels.forEach(function (p, i) {
  var x = d3.scaleLinear().domain(p.xDomain).range([plotLeft, plotRight]);
  var y = d3.scaleLinear().domain(p.yDomain).range([p.bottom, p.top]);

  defs.append('clipPath').attr('id', 'clip' + i)
    .append('rect')
    .attr('x', plotLeft).attr('y', p.top)
    .attr('width', plotRight - plotLeft).attr('height', p.bottom - p.top);

  var g = svg.append('g');

  // chromatogram trace
  var line = d3.line()
    .x(function (d) { return x(d[0]); })
    .y(function (d) { return y(d[1]); });

  g.append('path')
    .datum(p.data)
    .attr('clip-path', 'url(#clip' + i + ')')
    .attr('d', line)
    .attr('fill', 'none')
    .attr('stroke', '#111')
    .attr('stroke-width', 1.1)
    .attr('stroke-linejoin', 'round');

  // y axis, major + minor ticks
  var yMinor = d3.range(Math.ceil(p.yDomain[0] / p.yMinorStep) * p.yMinorStep, p.yDomain[1], p.yMinorStep);
  g.append('g')
    .attr('transform', 'translate(' + plotLeft + ',0)')
    .call(d3.axisLeft(y).tickValues(yMinor).tickSize(3).tickFormat(''))
    .call(function (a) { a.select('.domain').remove(); });

  g.append('g')
    .attr('transform', 'translate(' + plotLeft + ',0)')
    .call(d3.axisLeft(y).tickValues(p.yTicks).tickSize(6).tickPadding(1).tickFormat(d3.format(p.yFormat)))
    .call(function (a) { a.select('.domain').remove(); });

  // x axis at the bottom of the panel
  var xMinor = d3.range(Math.ceil(p.xDomain[0] * 2) / 2, p.xDomain[1], 0.5);
  g.append('g')
    .attr('transform', 'translate(0,' + p.bottom + ')')
    .call(d3.axisBottom(x).tickValues(xMinor).tickSize(4).tickFormat(''))
    .call(function (a) { a.select('.domain').remove(); });

  g.append('g')
    .attr('transform', 'translate(0,' + p.bottom + ')')
    .call(d3.axisBottom(x).tickValues(p.xTicks).tickSize(5).tickPadding(p.labelPad).tickFormat(d3.format('.1f')))
    .call(function (a) { a.select('.domain').remove(); });

  // frame of the panel
  g.append('rect')
    .attr('x', plotLeft).attr('y', p.top)
    .attr('width', plotRight - plotLeft).attr('height', p.bottom - p.top)
    .attr('fill', 'none')
    .attr('stroke', '#222')
    .attr('stroke-width', 1.2);

  g.append('text')
    .attr('x', 53).attr('y', p.top - 4)
    .style('font-family', '"Liberation Sans", Arial, sans-serif')
    .style('font-size', '11.5px')
    .attr('fill', '#333')
    .text(intensityUnits[i]);

  g.append('text')
    .attr('x', 61).attr('y', p.top + 10)
    .style('font-family', '"Liberation Sans", Arial, sans-serif')
    .style('font-size', '11.5px')
    .attr('fill', '#333')
    .text(traceLabel);
});

// species names on top of everything
panels.forEach(function (p, i) {
  svg.append('text')
    .attr('x', 1250).attr('y', p.nameY)
    .attr('text-anchor', 'end')
    .style('font-family', '"Liberation Serif", "Times New Roman", serif')
    .style('font-style', 'italic')
    .style('font-size', '47px')
    .attr('fill', '#231f20')
    .text(speciesNames[i]);
});

var caption = svg.append('text')
  .attr('x', 24).attr('y', 1637)
  .attr('textLength', 692)
  .attr('lengthAdjust', 'spacing')
  .style('font-family', '"Open Sans", "Noto Sans", sans-serif')
  .style('font-size', '18.5px')
  .attr('fill', '#333');

caption.append('tspan').style('font-weight', 'bold').attr('fill', '#231f20').text(captionBold);
caption.append('tspan').text(captionText);
</script>
</body>
</html>
